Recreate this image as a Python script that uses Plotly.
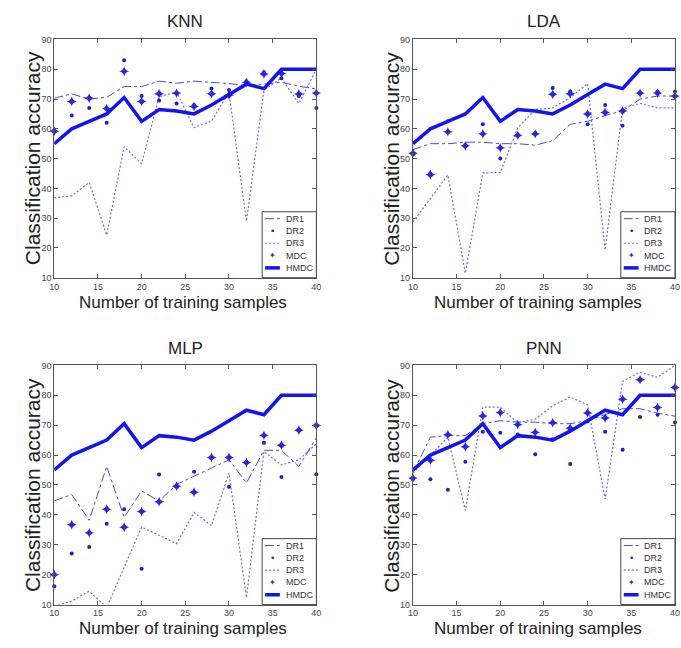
import plotly.graph_objects as go

# ---------------- data ----------------
samples = [10, 12, 14, 16, 18, 20, 22, 24, 26, 28, 30, 32, 34, 36, 38, 40]
x_ticks = [10, 15, 20, 25, 30, 35, 40]
y_ticks = [10, 20, 30, 40, 50, 60, 70, 80, 90]

hmdc = [55, 60, 62.5, 65, 70.5, 62.5, 66.5, 66, 65, 68, 71.5, 75, 73.5, 80, 80, 80]

knn_dr1 = [70.3, 71.7, 70, 70.6, 74.2, 74.2, 76, 75.3, 76, 75.6, 75.2, 74.5, 75, 75.6, 74.3, 73.4]
knn_dr2 = [59.5, 64.5, 67, 62, 83, 71, 69.5, 68.5, 68, 73.5, 73, 76, 79, 77, 71, 67]
knn_dr3 = [36.8, 37.5, 42, 24.3, 54, 48.3, 70.8, 72.3, 60.4, 62.6, 72.2, 29, 73, 77, 68.5, 80]
knn_mdc = [59.2, 69.2, 70.3, 66.8, 79.3, 69.2, 71.8, 72, 67.5, 71.8, 71.3, 75.6, 78.4, 78.6, 71.7, 72]

lda_dr1 = [53, 55, 55, 55.5, 55.5, 55, 55, 54.5, 56, 61.5, 62.5, 64.5, 66, 70, 71, 71]
lda_dr2 = [51.5, 45, 62.5, 54.5, 61.5, 50, 58, 58.5, 73.7, 72.5, 61.5, 68, 61, 72, 72.5, 72.5]
lda_dr3 = [28.7, 36.5, 44.5, 11.5, 45.2, 45.3, 60.3, 66.5, 67, 70.5, 75.2, 19.3, 67, 68.5, 67, 67]
lda_mdc = [51.8, 44.6, 59, 54.3, 58.3, 53.6, 57.8, 58.3, 71.6, 71.8, 65, 65.5, 66, 72, 72, 71]

mlp_dr1 = [44.7, 46.8, 38.2, 56.2, 39.2, 48, 44.6, 50.2, 52.9, 55.7, 58.4, 50.7, 61.6, 61.6, 56.2, 65.8]
mlp_dr2 = [16.1, 27.1, 29.3, 37, 41.9, 22, 53.5, 49.6, 54.4, 59.2, 49.4, 57.8, 64.1, 52.7, 68.3, 53.6]
mlp_dr3 = [9.5, 11.2, 14.5, 9, 22.5, 35.9, 33.2, 30.4, 40.8, 36.4, 54, 12.3, 61.2, 56.7, 58.4, 63.8]
mlp_mdc = [20, 36.7, 34, 41.9, 35.9, 41.1, 44.4, 49.6, 47.6, 59.2, 59.2, 57.5, 66.6, 63.3, 68.3, 69.9]

pnn_dr1 = [54, 66, 66.5, 66.5, 70.5, 71.5, 71, 71, 70.5, 70.5, 71.5, 73.5, 75.5, 75.5, 74, 73]
pnn_dr2 = [51.9, 51.9, 48.4, 57.8, 67.8, 67.5, 66.9, 60.3, 65.3, 57, 71.3, 67.8, 61.8, 72.7, 73.5, 70.9]
pnn_dr3 = [54, 60, 66, 41.5, 76, 76, 70.8, 72, 76.5, 79.4, 76.8, 45.3, 84.7, 87.7, 86, 90]
pnn_mdc = [52.3, 58.3, 66.8, 62.8, 73.1, 74.2, 70.2, 67.6, 70.8, 69, 74.1, 72.4, 78.7, 85.2, 75.9, 82.6]

panel_titles = ["KNN", "LDA", "MLP", "PNN"]
series_names = ["DR1", "DR2", "DR3", "MDC", "HMDC"]
x_title = "Number of training samples"
y_title = "Classification accuracy"

panels = [
    (knn_dr1, knn_dr2, knn_dr3, knn_mdc),
    (lda_dr1, lda_dr2, lda_dr3, lda_mdc),
    (mlp_dr1, mlp_dr2, mlp_dr3, mlp_mdc),
    (pnn_dr1, pnn_dr2, pnn_dr3, pnn_mdc),
]

# ---------------- layout geometry (pixels) ----------------
W, H = 681, 648
col_px = [(50, 316), (414, 680)]
row_px = [(35, 277), (366, 609)]

C_HMDC = "#1414f0"
C_DR1 = "#4848e2"
C_DR3 = "#6c6cf2"
C_DR2 = "#1e1ec8"
C_MDC = "#2828d8"
FONT = "Liberation Sans, Arial, sans-serif"
DOT = "2px,2px"

fig = go.Figure()
layout = dict(width=W, height=H, margin=dict(l=0, r=0, t=0, b=0),
              paper_bgcolor="white", plot_bgcolor="white", showlegend=False,
              annotations=[], shapes=[])

for i, (dr1, dr2, dr3, mdc) in enumerate(panels):
    n = i + 1
    r, c = divmod(i, 2)
    xs = "" if n == 1 else str(n)
    xa, ya = "x" + xs, "y" + xs
    (px0, px1), (py0, py1) = col_px[c], row_px[r]

    axis_common = dict(showline=True, linecolor="#555555", linewidth=1, mirror="ticks",
                       ticks="inside", ticklen=4, tickcolor="#555555", showgrid=False,
                       zeroline=False, tickfont=dict(family=FONT, size=9, color="#444444"))
    layout["xaxis" + xs] = dict(domain=[px0 / W, px1 / W], range=[10, 40], tickvals=x_ticks,
                                anchor=ya, **axis_common)
    layout["yaxis" + xs] = dict(domain=[1 - py1 / H, 1 - py0 / H], range=[10, 90], tickvals=y_ticks,
                                anchor=xa, **axis_common)

    fig.add_trace(go.Scatter(x=samples, y=dr1, mode="lines", name="DR1", xaxis=xa, yaxis=ya,
                             line=dict(color=C_DR1, width=1, dash="dashdot")))
    fig.add_trace(go.Scatter(x=samples, y=dr3, mode="lines", name="DR3", xaxis=xa, yaxis=ya,
                             line=dict(color=C_DR3, width=1.2, dash=DOT)))
    fig.add_trace(go.Scatter(x=samples, y=dr2, mode="markers", name="DR2", xaxis=xa, yaxis=ya,
                             cliponaxis=False, marker=dict(color=C_DR2, size=4, symbol="circle")))
    fig.add_trace(go.Scatter(x=samples, y=mdc, mode="markers", name="MDC", xaxis=xa, yaxis=ya,
                             cliponaxis=False,
                             marker=dict(color=C_MDC, size=7, symbol="star-diamond")))
    fig.add_trace(go.Scatter(x=samples, y=hmdc, mode="lines", name="HMDC", xaxis=xa, yaxis=ya,
                             line=dict(color=C_HMDC, width=3.5)))

    cx = (px0 + px1) / 2
    ty = 17 if r == 0 else 349
    layout["annotations"].append(dict(text=panel_titles[i], x=cx / W, y=1 - ty / H, xref="paper",
                                      yref="paper", showarrow=False, xanchor="center", yanchor="middle",
                                      font=dict(family=FONT, size=17, color="#222222")))
    xt_y = 302 if r == 0 else 633
    xt_x = 181 if c == 0 else 541
    layout["annotations"].append(dict(text=x_title, x=xt_x / W, y=1 - xt_y / H, xref="paper",
                                      yref="paper", showarrow=False, xanchor="center", yanchor="middle",
                                      font=dict(family=FONT, size=17, color="#222222")))
    yt_x = 28 if c == 0 else 392
    yt_y = 156 if r == 0 else 488
    layout["annotations"].append(dict(text=y_title, x=yt_x / W, y=1 - yt_y / H, xref="paper",
                                      yref="paper", showarrow=False, textangle=-90,
                                      xanchor="center", yanchor="middle",
                                      font=dict(family=FONT, size=21, color="#222222")))

    # ---- legend box (inside lower right of each panel) ----
    dx, dy = xa + " domain", ya + " domain"
    pw, ph = px1 - px0, py1 - py0
    bx0 = 1 - 55 / pw
    by1 = 67 / ph
    layout["shapes"].append(dict(type="rect", xref=dx, yref=dy, x0=bx0, x1=1, y0=0, y1=by1,
                                 fillcolor="white", line=dict(color="#444444", width=1), layer="above"))
    item_y = [(60 - 12.5 * k) / ph for k in range(5)]
    lx0, lx1 = bx0 + 3 / pw, bx0 + 18 / pw
    lxm = (lx0 + lx1) / 2
    tx = bx0 + 22 / pw
    styles = [("line", C_DR1, 1, "dashdot"), ("dot", C_DR2, None, "•"), ("line", C_DR3, 1.2, DOT),
              ("mark", C_MDC, None, "✦"), ("line", C_HMDC, 3.5, "solid")]
    for k, (kind, col, w, extra) in enumerate(styles):
        yk = item_y[k]
        if kind == "line":
            layout["shapes"].append(dict(type="line", xref=dx, yref=dy, x0=lx0, x1=lx1, y0=yk, y1=yk,
                                         line=dict(color=col, width=w, dash=extra), layer="above"))
        else:
            layout["annotations"].append(dict(text=extra, xref=dx, yref=dy, x=lxm, y=yk, showarrow=False,
                                              xanchor="center", yanchor="middle",
                                              font=dict(family="DejaVu Sans", size=9 if kind == "dot" else 8,
                                                        color=col)))
        layout["annotations"].append(dict(text=series_names[k], xref=dx, yref=dy, x=tx, y=yk,
                                          showarrow=False, xanchor="left", yanchor="middle",
                                          font=dict(family=FONT, size=9, color="#333333")))

fig.update_layout(**layout)
fig.write_html("out.html", config={"displayModeBar": False},
               post_script="document.body.style.margin='0';document.body.style.overflow='hidden';")
